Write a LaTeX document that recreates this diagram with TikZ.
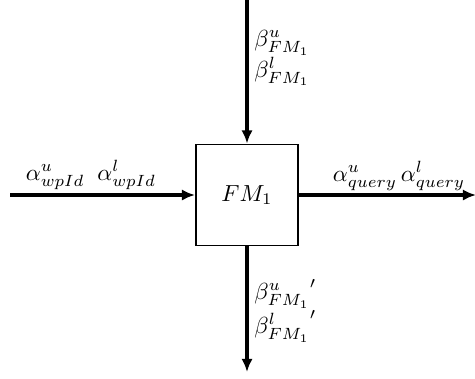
\documentclass[tikz,border=0pt]{standalone}
\usetikzlibrary{arrows.meta}
\begin{document}
\begin{tikzpicture}[x=0.43pt,y=-0.43pt,
  arr/.style={line width=1.3pt,-{Latex[length=5.6pt,width=4.8pt]}},
  fmbox/.style={draw,line width=0.85pt,minimum width=102*0.43pt,minimum height=101*0.43pt,inner sep=0pt},
  lbl/.style={inner sep=0pt}]
\useasboundingbox (0,0) rectangle (475,378);
\node[fmbox] (fm) at (247,195) {$FM_1$};
\coordinate (top) at (247,0);
\coordinate (bot) at (247,372);
\coordinate (lft) at (10,195);
\coordinate (rgt) at (476,195);
\draw[arr] (top) -- (fm.north);
\draw[arr] (fm.south) -- (bot);
\draw[arr] (lft) -- (fm.west);
\draw[arr] (fm.east) -- (rgt);
\node[lbl,anchor=west,align=left] (tl) at (254,58) {$\beta^u_{FM_1}$\\$\beta^l_{FM_1}$};
\node[lbl,anchor=west,align=left] (bl) at (254,311) {${\beta^u_{FM_1}}'$\\${\beta^l_{FM_1}}'$};
\node[lbl] (la) at (91,175) {$\alpha^u_{wpId}\hspace{5.5pt}\alpha^l_{wpId}$};
\node[lbl] (ra) at (399,176) {$\alpha^u_{query}\,\alpha^l_{query}$};
\end{tikzpicture}
\end{document}
